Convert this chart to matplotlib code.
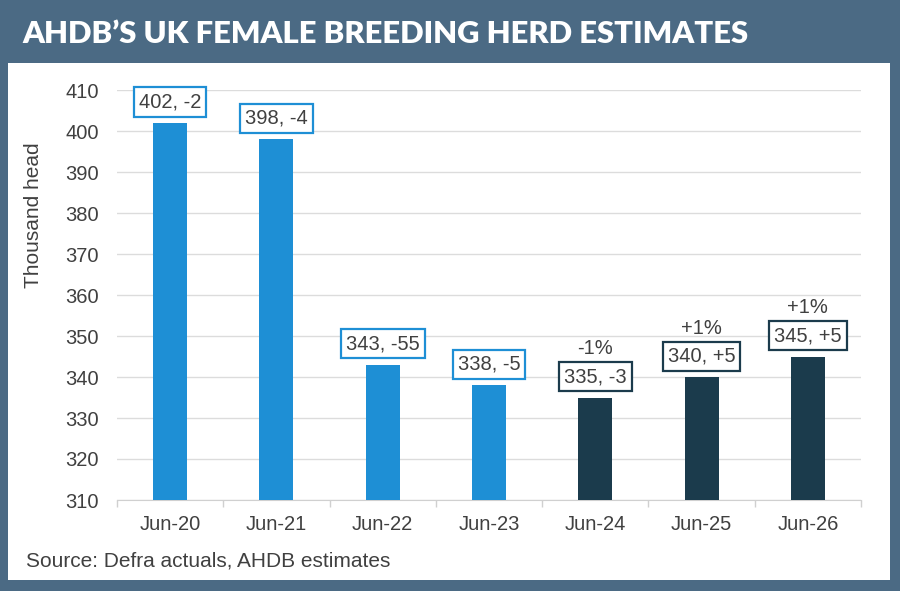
import matplotlib.pyplot as plt
from matplotlib.patches import Rectangle

plt.rcParams.update({"font.family": ["Liberation Sans", "DejaVu Sans"]})

categories = ["Jun-20", "Jun-21", "Jun-22", "Jun-23", "Jun-24", "Jun-25", "Jun-26"]
herd = [402, 398, 343, 338, 335, 340, 345]
change = ["-2", "-4", "-55", "-5", "-3", "+5", "+5"]
pct = ["", "", "", "", "-1%", "+1%", "+1%"]
is_estimate = [False, False, False, False, True, True, True]

actual_col = "#1e8fd5"
est_col = "#1b3b4c"
frame_col = "#4b6a84"
text_col = "#404040"

fig = plt.figure(figsize=(9, 5.91), dpi=100, facecolor=frame_col)
fig.patches.append(Rectangle((8 / 900, 11 / 591), 882 / 900, 517 / 591,
                             transform=fig.transFigure, facecolor="white",
                             edgecolor="none", zorder=-10))

fig.text(22 / 900, 1 - 34 / 591, "AHDB’S UK FEMALE BREEDING HERD ESTIMATES",
         color="white", fontsize=22.3, fontweight="heavy",
         family=["Lato", "DejaVu Sans"], va="center", ha="left")

ax = fig.add_axes([117 / 900, 91 / 591, 744 / 900, 410 / 591])
ax.set_facecolor("none")

x = range(len(categories))
colors = [est_col if e else actual_col for e in is_estimate]
ax.bar(x, [h - 310 for h in herd], bottom=310, width=0.32, color=colors, zorder=3)

for i, (h, c, p, col) in enumerate(zip(herd, change, pct, colors)):
    ax.annotate(f"{h}, {c}", (i, h), xytext=(0, 15), textcoords="offset points",
                ha="center", va="center", fontsize=14.5, color=text_col,
                bbox=dict(boxstyle="square,pad=0.25", facecolor="white",
                          edgecolor=col, linewidth=1.6),
                annotation_clip=False, zorder=5)
    if p:
        ax.annotate(p, (i, h), xytext=(0, 35), textcoords="offset points",
                    ha="center", va="center", fontsize=14.5, color=text_col,
                    annotation_clip=False, zorder=5)

ax.set_xlim(-0.5, len(categories) - 0.5)
ax.set_ylim(310, 410)
ax.set_yticks(range(310, 411, 10))
ax.set_xticks(list(x))
ax.set_xticklabels(categories)
ax.tick_params(axis="both", labelsize=14.5, colors=text_col, length=0)
ax.tick_params(axis="y", pad=13)
ax.tick_params(axis="x", pad=11)
ax.set_xticks([i + 0.5 for i in range(-1, len(categories))], minor=True)
ax.tick_params(axis="x", which="minor", length=5, color="#d0d0d0", width=1)
ax.grid(axis="y", color="#dcdcdc", linewidth=1, zorder=0)
for s in ["top", "right", "left"]:
    ax.spines[s].set_visible(False)
ax.spines["bottom"].set_color("#d0d0d0")

fig.text(34 / 900, 1 - 215 / 591, "Thousand head", rotation=90, fontsize=15,
         color=text_col, ha="center", va="center")
fig.text(26 / 900, 1 - 561 / 591, "Source: Defra actuals, AHDB estimates",
         fontsize=15, color=text_col, ha="left", va="center")

fig.savefig("out.png", dpi=100, facecolor=frame_col)
